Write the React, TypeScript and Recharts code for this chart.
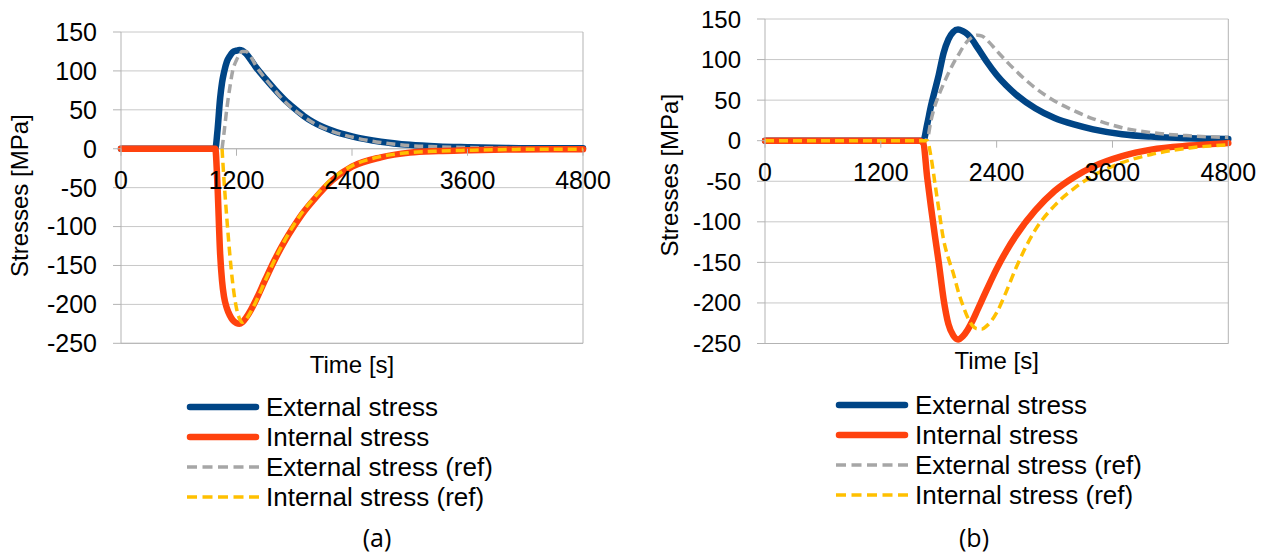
import React from 'react';
import {
    LineChart, Line, XAxis, YAxis, CartesianGrid, ReferenceLine, Legend
} from 'recharts';

const FONT = '"Liberation Sans", Arial, sans-serif';
const GRID = '#c8c8c8';
const AXIS = '#b3b3b3';

const xTicks = [0, 1200, 2400, 3600, 4800];
const yTicks = [-250, -200, -150, -100, -50, 0, 50, 100, 150];
const Y_MIN = -250;
const Y_MAX = 150;

// (a)
const timeA = [0, 960, 980, 1000, 1030, 1050, 1070, 1100, 1130, 1160, 1200, 1230, 1260, 1300, 1350, 1400, 1500, 1600, 1700, 1800, 1900, 2000, 2200, 2400, 2700, 3000, 3300, 3600, 4000, 4400, 4800];
const extA = [0, 0, 0, 20, 65, 85, 98, 112, 119, 124, 126, 127, 126, 122, 114, 105, 90, 76, 63, 52, 42, 34, 23, 16, 9, 5, 3, 2, 1, 0.5, 0.5];
const intA = [0, 0, 0, -40, -135, -170, -190, -205, -214, -220, -224, -225, -223, -217, -207, -195, -168, -142, -119, -99, -81, -66, -40, -23, -11, -5, -3, -2, -1, -0.5, -0.5];
const extRefA = [null, null, null, null, null, 0, 20, 52, 78, 100, 114, 121, 125, 125, 118, 107, 90, 75, 61, 50, 41, 33, 22, 15, 8, 4, 2.5, 1.5, 1, 0.5, 0.5];
const intRefA = [null, null, null, null, null, 0, -40, -90, -135, -172, -205, -218, -223, -219, -209, -197, -169, -142, -118, -97, -79, -64, -38, -22, -10, -5, -3, -2, -1, -0.5, -0.5];

// (b)
const timeB = [0, 1600, 1640, 1680, 1720, 1760, 1800, 1850, 1900, 1950, 2000, 2050, 2100, 2150, 2200, 2250, 2300, 2400, 2500, 2600, 2800, 3000, 3200, 3400, 3700, 4000, 4400, 4800];
const extB = [0, 0, 0, 20, 43, 62, 81, 108, 125, 134, 137, 135, 131, 124, 115, 106, 97, 81, 68, 57, 40, 28, 20, 14, 8, 5, 3, 2];
const intB = [0, 0, -3, -45, -82, -117, -150, -195, -226, -240, -245, -241, -233, -222, -209, -196, -183, -158, -136, -117, -86, -62, -45, -32, -19, -11, -6, -3];
const extRefB = [0, 0, 0, 2, 25, 43, 56, 70, 83, 95, 105, 115, 123, 128, 130, 129, 124, 111, 98, 86, 65, 49, 37, 27, 16, 10, 6, 4];
const intRefB = [0, 0, 0, 0, -20, -52, -84, -122, -145, -163, -185, -203, -218, -228, -232, -232, -228, -212, -186, -157, -110, -80, -59, -43, -27, -17, -9, -5];

const series = [
    { key: 'ext', name: 'External stress', color: '#004586', width: 6.5, dash: undefined },
    { key: 'extRef', name: 'External stress (ref)', color: '#a6a6a6', width: 3.5, dash: '9 5' },
    { key: 'int', name: 'Internal stress', color: '#ff420e', width: 6.5, dash: undefined },
    { key: 'intRef', name: 'Internal stress (ref)', color: '#ffc000', width: 3.5, dash: '9 5' },
];
const legendOrder = ['ext', 'int', 'extRef', 'intRef'];

const rows = (time: number[], ext: any[], int: any[], extRef: any[], intRef: any[]) =>
    time.map((t, i) => ({ t, ext: ext[i], int: int[i], extRef: extRef[i], intRef: intRef[i] }));

const dataA = rows(timeA, extA, intA, extRefA, intRefA);
const dataB = rows(timeB, extB, intB, extRefB, intRefB);

const LegendBox = ({ fontSize }: { fontSize: number }) => (
    <div style={{ fontFamily: FONT, fontSize, color: '#000' }}>
        {legendOrder.map((k) => {
            const s = series.find((x) => x.key === k)!;
            return (
                <div key={k} style={{ display: 'flex', alignItems: 'center', height: 30, whiteSpace: 'nowrap' }}>
                    <svg width={78} height={10} style={{ marginRight: 4 }}>
                        <line
                            x1={s.dash ? 3 : 6} x2={s.dash ? 75 : 72} y1={5} y2={5}
                            stroke={s.color} strokeWidth={s.width}
                            strokeDasharray={s.dash ? '10 5.5' : undefined}
                            strokeLinecap={s.dash ? 'butt' : 'round'}
                        />
                    </svg>
                    <span>{s.name}</span>
                </div>
            );
        })}
    </div>
);

interface PanelProps {
    data: any[];
    width: number;
    margin: { top: number; right: number; bottom: number; left: number };
    yAxisWidth: number;
    yFont: number;
    titleX: number;
    titleShift: number;
    timeOffset: number;
    legendLeft: number;
    legendTop: number;
}

const HEIGHT = 554;
const X_AXIS_H = 40;

function Panel({ data, width, margin, yAxisWidth, yFont, titleX, titleShift, timeOffset, legendLeft, legendTop }: PanelProps) {
    const plotH = HEIGHT - margin.top - margin.bottom - X_AXIS_H;
    const zeroOff = plotH * (0 - Y_MIN) / (Y_MAX - Y_MIN);

    const xTick = (p: any) => (
        <g>
            <line x1={p.x} x2={p.x} y1={p.y - zeroOff} y2={p.y - zeroOff + 7} stroke={AXIS} />
            <text x={p.x} y={p.y - zeroOff + 31} textAnchor="middle" dominantBaseline="central"
                fontSize={25} fill="#000" fontFamily={FONT}>
                {p.payload.value}
            </text>
        </g>
    );

    const yTitle = (p: any) => {
        const vb = p.viewBox;
        const cy = vb.y + vb.height / 2 + titleShift;
        return (
            <text x={titleX} y={cy} transform={`rotate(-90 ${titleX} ${cy})`} textAnchor="middle"
                dominantBaseline="central" fontSize={24} fill="#000" fontFamily={FONT}>
                Stresses [MPa]
            </text>
        );
    };

    return (
        <LineChart width={width} height={HEIGHT} data={data} margin={margin} style={{ fontFamily: FONT }}>
            <CartesianGrid vertical={false} stroke={GRID} />
            <ReferenceLine y={0} stroke={AXIS} />
            <ReferenceLine x={4800} stroke={AXIS} />
            <XAxis
                dataKey="t" type="number" domain={[0, 4800]} ticks={xTicks} interval={0}
                tickSize={0} tickMargin={0} tickLine={false} axisLine={{ stroke: AXIS }}
                height={X_AXIS_H} tick={xTick}
                label={{ value: 'Time [s]', position: 'insideTop', offset: timeOffset, fontSize: 24, fill: '#000' }}
            />
            <YAxis
                type="number" domain={[Y_MIN, Y_MAX]} ticks={yTicks} interval={0} width={yAxisWidth}
                tickSize={8} tickMargin={16} axisLine={{ stroke: AXIS }} tickLine={{ stroke: AXIS }}
                tick={{ fontSize: yFont, fill: '#000', fontFamily: FONT }}
                label={yTitle}
            />
            {series.map((s) => (
                <Line
                    key={s.key} dataKey={s.key} name={s.name} type="monotone"
                    stroke={s.color} strokeWidth={s.width} strokeDasharray={s.dash}
                    dot={false} activeDot={false} isAnimationActive={false}
                    strokeLinejoin="round" strokeLinecap={s.dash ? 'butt' : 'round'}
                />
            ))}
            <Legend
                layout="vertical" align="center" verticalAlign="middle"
                wrapperStyle={{ left: legendLeft, top: legendTop, width: 'auto' }}
                content={() => <LegendBox fontSize={26} />}
            />
        </LineChart>
    );
}

const caption: React.CSSProperties = {
    position: 'absolute', transform: 'translate(-50%, -50%)',
    fontFamily: '"Open Sans", sans-serif', fontSize: 25, color: '#000',
};

export default function App() {
    return (
        <div style={{ position: 'absolute', left: 0, top: 0, width: 1269, height: 554, background: '#fff' }}>
            <div style={{ position: 'absolute', left: 0, top: 0 }}>
                <Panel
                    data={dataA} width={640}
                    margin={{ top: 32, right: 57, bottom: 554 - 343.3 - X_AXIS_H, left: 0 }}
                    yAxisWidth={121} yFont={25} titleX={20} titleShift={8} timeOffset={13}
                    legendLeft={184} legendTop={392}
                />
            </div>
            <div style={{ position: 'absolute', left: 640, top: 0 }}>
                <Panel
                    data={dataB} width={629}
                    margin={{ top: 19, right: 40.7, bottom: 554 - 343.5 - X_AXIS_H, left: 0 }}
                    yAxisWidth={125} yFont={24} titleX={29} titleShift={-6} timeOffset={8}
                    legendLeft={193} legendTop={390}
                />
            </div>
            <div style={{ ...caption, left: 377, top: 537 }}>(a)</div>
            <div style={{ ...caption, left: 974, top: 537 }}>(b)</div>
        </div>
    );
}
